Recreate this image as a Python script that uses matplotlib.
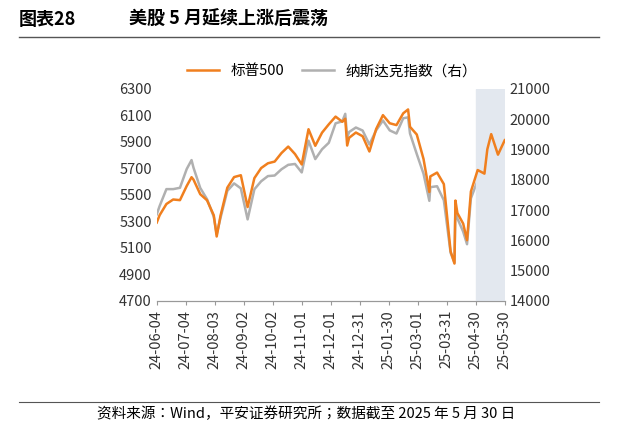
import matplotlib
matplotlib.use("Agg")
import matplotlib.pyplot as plt
import pandas as pd

plt.rcParams["font.family"] = ["Noto Sans CJK JP","Noto Sans CJK SC","Noto Sans CJK TC","DejaVu Sans"]

dates = ["2024-06-04","2024-06-07","2024-06-14","2024-06-21","2024-06-28","2024-07-05","2024-07-10","2024-07-12","2024-07-19","2024-07-26",
 "2024-08-02","2024-08-05","2024-08-09","2024-08-16","2024-08-23","2024-08-30","2024-09-06","2024-09-13","2024-09-20","2024-09-27",
 "2024-10-04","2024-10-11","2024-10-18","2024-10-25","2024-11-01","2024-11-08","2024-11-15","2024-11-22","2024-11-29","2024-12-06",
 "2024-12-13","2024-12-16","2024-12-18","2024-12-20","2024-12-27","2025-01-03","2025-01-10","2025-01-17","2025-01-24","2025-01-31",
 "2025-02-07","2025-02-14","2025-02-19","2025-02-21","2025-02-28","2025-03-07","2025-03-13","2025-03-14","2025-03-21","2025-03-28",
 "2025-04-04","2025-04-08","2025-04-09","2025-04-11","2025-04-17","2025-04-21","2025-04-25","2025-05-02","2025-05-09","2025-05-12",
 "2025-05-16","2025-05-23","2025-05-30"]
spx = [5291,5347,5431,5465,5460,5567,5633,5615,5505,5459,
 5346,5186,5344,5554,5634,5648,5408,5626,5702,5738,
 5751,5815,5864,5808,5729,5995,5870,5969,6032,6090,
 6051,6074,5872,5930,5970,5942,5827,5997,6101,6040,
 6026,6115,6144,6013,5955,5770,5522,5639,5668,5581,
 5074,4982,5457,5363,5283,5158,5525,5687,5660,5844,
 5958,5803,5912]
ndx = [16857,17133,17689,17689,17733,18352,18647,18398,17727,17358,
 16776,16200,16745,17631,17878,17714,16691,17684,17948,18119,
 18138,18343,18490,18519,18240,19287,18680,19004,19218,19860,
 19926,20173,19393,19573,19722,19622,19162,19630,19954,19627,
 19523,20027,20056,19524,18847,18196,17303,17754,17784,17323,
 15588,15268,17125,16724,16286,15871,17383,17978,17929,18708,
 19211,18737,19114]
xticks = ["24-06-04","24-07-04","24-08-03","24-09-02","24-10-02","24-11-01","24-12-01",
          "24-12-31","25-01-30","25-03-01","25-03-31","25-04-30","25-05-30"]

d = pd.to_datetime(dates)
fig = plt.figure(figsize=(6.27,4.33), dpi=100)
ax = fig.add_axes([0.25,0.305,0.555,0.49])
ax2 = ax.twinx()
ax.axvspan(pd.Timestamp("2025-04-30"), pd.Timestamp("2025-05-30"), color="#e3e8ef", zorder=0)
l2, = ax2.plot(d, ndx, color="#b0b0b0", lw=1.8, label="纳斯达克指数（右）")
l1, = ax.plot(d, spx, color="#f07f1e", lw=1.8, label="标普500")
ax.set_zorder(ax2.get_zorder()+1); ax.patch.set_visible(False)
ax.set_ylim(4700,6300); ax.set_yticks(range(4700,6301,200))
ax2.set_ylim(14000,21000); ax2.set_yticks(range(14000,21001,1000))
xt = pd.to_datetime(["20"+s for s in xticks])
ax.set_xlim(xt[0], xt[-1])
ax.set_xticks(xt); ax.set_xticklabels(xticks, rotation=90)
for a in (ax, ax2):
    a.tick_params(labelsize=10.5, length=0, colors="#333333")
    for s in ("top","left","right"):
        a.spines[s].set_visible(False)
    a.spines["bottom"].set_color("#999999")
ax.tick_params(axis="x", length=3, color="#999999")
fig.legend(handles=[l1,l2], loc="center", bbox_to_anchor=(0.53,0.835), ncol=2, frameon=False,
           fontsize=10.5, handlelength=2.2, columnspacing=1.2)
fig.text(0.03,0.955,"图表28", fontsize=13, weight="bold", va="center")
fig.text(0.205,0.955,"美股 5 月延续上涨后震荡", fontsize=13, weight="bold", va="center")
fig.add_artist(plt.Line2D([0.03,0.955],[0.915,0.915], color="#555555", lw=1))
fig.add_artist(plt.Line2D([0.03,0.955],[0.072,0.072], color="#555555", lw=0.8))
fig.text(0.155,0.045,"资料来源：Wind，平安证券研究所；数据截至 2025 年 5 月 30 日", fontsize=10.5, style="italic", va="center")
fig.savefig("out.png", dpi=100)
